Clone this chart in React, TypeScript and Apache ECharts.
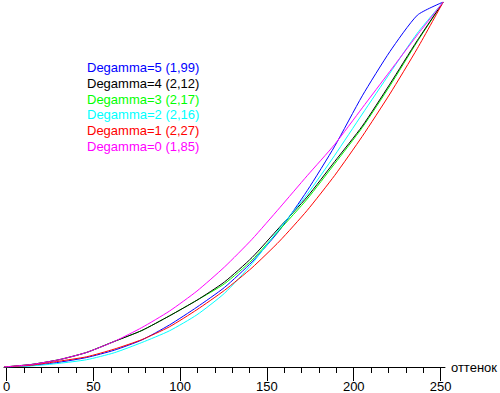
import React, { useEffect, useRef } from "react";
import * as echarts from "echarts";

const XS = [0, 16, 32, 48, 64, 80, 96, 112, 128, 144, 160, 176, 192, 208, 224, 240, 255];
const DEGAMMA5 = [0, 0.4, 1.3, 2.6, 4.6, 7.4, 11.5, 16.4, 21.8, 28.8, 37.5, 48.3, 60.5, 74.3, 86.4, 96.4, 100];
const DEGAMMA4 = [0, 0.7, 2.0, 4.0, 7.0, 10.0, 14, 18.3, 23.3, 30, 38.3, 46.6, 56.3, 66, 77.5, 89.5, 100];
const DEGAMMA3 = [0, 0.7, 2.0, 4.0, 7.0, 10.0, 14, 18.3, 22.8, 29.3, 37.6, 46.0, 55.7, 65.6, 77.0, 89.2, 100];
const DEGAMMA2 = [0, 0.3, 1.0, 2.0, 3.9, 6.7, 9.9, 14.3, 20.2, 28.3, 38, 47.3, 58, 69.3, 80.5, 91.5, 100];
const DEGAMMA1 = [0, 0.5, 1.6, 2.8, 4.9, 7.5, 11, 15.7, 21, 27.2, 34.5, 42.9, 52.5, 63.2, 74.8, 87.3, 100];
const DEGAMMA0 = [0, 0.7, 2.0, 4.0, 7.0, 10.8, 15.3, 20.8, 27.4, 35, 43.6, 52.4, 61, 71, 81, 91, 100];

const LEGEND_NAMES = [
  "Degamma=5 (1,99)",
  "Degamma=4 (2,12)",
  "Degamma=3 (2,17)",
  "Degamma=2 (2,16)",
  "Degamma=1 (2,27)",
  "Degamma=0 (1,85)",
];
const COLORS = ["#0000ff", "#000000", "#00ff00", "#00ffff", "#ff0000", "#ff00ff"];
const VALUES = [DEGAMMA5, DEGAMMA4, DEGAMMA3, DEGAMMA2, DEGAMMA1, DEGAMMA0];
// drawing order (first is drawn underneath)
const DRAW_ORDER = [0, 2, 1, 3, 4, 5];
const X_TICKS_MAX = 250;
const X_NAME = "оттенок";

export default function App() {
  const ref = useRef<HTMLDivElement>(null);
  useEffect(() => {
    document.body.style.margin = "0";
    if (!ref.current) return;
    const chart = echarts.init(ref.current, undefined, { renderer: "svg" });
    const font = "Arial, 'Liberation Sans', sans-serif";
    const unit = 447 / 256;
    const series = DRAW_ORDER.map((i) => ({
      name: LEGEND_NAMES[i],
      type: "line",
      xAxisIndex: 0,
      yAxisIndex: 0,
      data: XS.map((x, k) => [x, VALUES[i][k]]),
      showSymbol: false,
      symbol: "none",
      smooth: 0.2,
      lineStyle: { color: COLORS[i], width: 1 },
      itemStyle: { color: COLORS[i] },
      z: 2,
    }));
    chart.setOption({
      animation: false,
      backgroundColor: "#ffffff",
      grid: [
        { left: 4, top: 2, width: 447, height: 365 },
        { left: 4, top: 2, width: X_TICKS_MAX * unit, height: 365 },
      ],
      xAxis: [
        {
          type: "value",
          gridIndex: 0,
          min: 0,
          max: 256,
          axisLine: { show: true, lineStyle: { color: "#000", width: 1 } },
          axisTick: { show: false },
          axisLabel: { show: false },
          splitLine: { show: false },
          name: X_NAME,
          nameLocation: "end",
          nameGap: 6,
          nameTextStyle: { color: "#000", fontSize: 13, fontFamily: font, verticalAlign: "middle", align: "left" },
        },
        {
          type: "value",
          gridIndex: 1,
          min: 0,
          max: X_TICKS_MAX,
          interval: 50,
          axisLine: { show: false },
          axisTick: { show: true, length: 14, lineStyle: { color: "#000", width: 1 } },
          minorTick: { show: true, splitNumber: 5, length: 6, lineStyle: { color: "#000", width: 1 } },
          axisLabel: { show: true, color: "#000", fontSize: 13, fontFamily: font, margin: 13 },
          splitLine: { show: false },
          minorSplitLine: { show: false },
        },
      ],
      yAxis: [
        { type: "value", gridIndex: 0, min: 0, max: 100, show: false },
        { type: "value", gridIndex: 1, min: 0, max: 100, show: false },
      ],
      graphic: LEGEND_NAMES.map((name, i) => ({
        type: "text",
        left: 87,
        top: 61 + i * 15.8,
        style: { text: name, fill: COLORS[i], font: `13px ${font}` },
        z: 10,
      })),
      series,
    });
    return () => chart.dispose();
  }, []);
  return <div ref={ref} style={{ width: 500, height: 393 }} />;
}
